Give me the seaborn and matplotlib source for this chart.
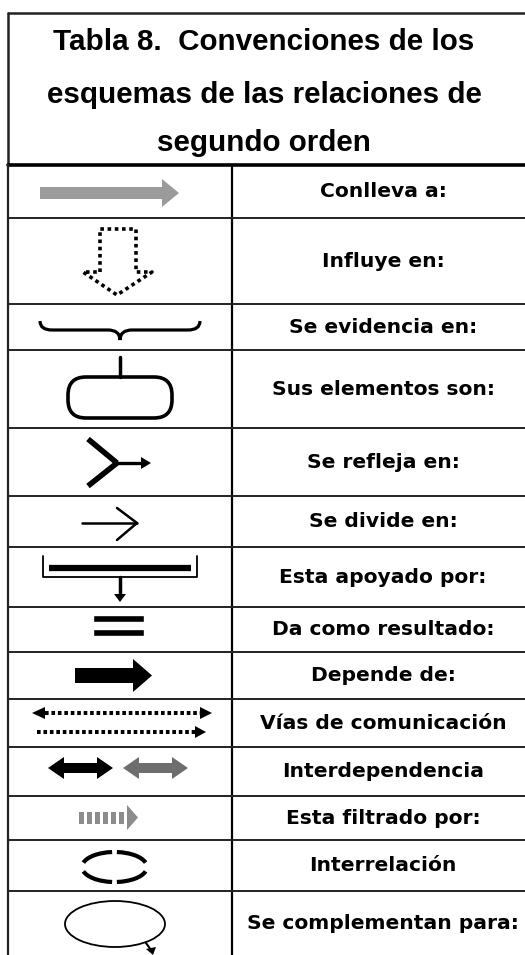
import matplotlib.pyplot as plt
import seaborn as sns
from matplotlib.patches import Polygon, Rectangle, FancyBboxPatch, Ellipse, Arc, PathPatch
from matplotlib.path import Path

# Table content
title_lines = ["Tabla 8.  Convenciones de los",
               "esquemas de las relaciones de",
               "segundo orden"]
conventions = ["Conlleva a:", "Influye en:", "Se evidencia en:", "Sus elementos son:",
               "Se refleja en:", "Se divide en:", "Esta apoyado por:", "Da como resultado:",
               "Depende de:", "Vías de comunicación", "Interdependencia",
               "Esta filtrado por:", "Interrelación", "Se complementan para:"]

# layout (pixels)
row_edges = [165, 218, 304, 350, 428, 496, 547, 607, 652, 699, 747, 796, 840, 891, 955]

sns.set_style("white")
fig = plt.figure(figsize=(5.25, 9.55), dpi=100)
ax = fig.add_axes([0, 0, 1, 1])
ax.set_xlim(0, 525)
ax.set_ylim(955, 0)
ax.axis("off")

K = "black"
LC = "#222222"

# title box
ax.plot([8, 8], [13, 165], color=LC, lw=1.8)
ax.plot([8, 525], [13, 13], color=LC, lw=1.8)
ax.plot([8, 525], [165, 165], color=K, lw=2.6)
for txt, yb in zip(title_lines, [50, 103, 151]):
    ax.text(264, yb, txt, ha="center", va="baseline", fontsize=21.3, color=K,
            fontweight="bold", family="Liberation Sans")

# grid
ax.plot([8, 8], [165, 955], color=LC, lw=1.6)
ax.plot([232, 232], [165, 955], color=K, lw=1.6)
for y in row_edges[1:-1]:
    ax.plot([8, 525], [y, y], color=LC, lw=1.4)

# labels
for lab, y0, y1 in zip(conventions, row_edges[:-1], row_edges[1:]):
    ax.text(383, (y0 + y1) / 2, lab, ha="center", va="center", fontsize=14.6, color=K,
            fontweight="bold", family="DejaVu Sans")


def poly(pts, fc):
    ax.add_patch(Polygon(pts, closed=True, fc=fc, ec="none"))


# 1 gray arrow
poly([(40, 187), (162, 187), (162, 179), (179, 193), (162, 207), (162, 199), (40, 199)], "#9b9b9b")

# 2 dotted block arrow down
ax.plot([100, 100, 136, 136, 152, 117, 83, 100], [272, 229, 229, 272, 272, 295, 272, 272],
        color=K, lw=2.6, ls=(0, (1, 1.0)), dash_capstyle="butt")

# 3 brace
verts = [(40, 321), (40, 330), (52, 330), (108, 330), (120, 330), (120, 340),
         (120, 330), (132, 330), (188, 330), (200, 330), (200, 321)]
codes = [Path.MOVETO, Path.CURVE3, Path.CURVE3, Path.LINETO, Path.CURVE3, Path.CURVE3,
         Path.CURVE3, Path.CURVE3, Path.LINETO, Path.CURVE3, Path.CURVE3]
ax.add_patch(PathPatch(Path(verts, codes), fc="none", ec=K, lw=2.3))

# 4 stem + rounded box
ax.plot([120, 120], [357, 377], color=K, lw=2.5)
ax.add_patch(FancyBboxPatch((68, 377), 104, 41, boxstyle="round,pad=0,rounding_size=18",
                            fc="none", ec=K, lw=2.6))

# 5 Y arrow
ax.plot([88, 117], [439, 463], color=K, lw=4, solid_capstyle="butt")
ax.plot([88, 117], [486, 463], color=K, lw=4, solid_capstyle="butt")
ax.plot([115, 143], [463, 463], color=K, lw=2.4)
poly([(141, 457), (151, 463), (141, 469)], K)

# 6 thin arrow
ax.plot([82, 137], [523, 523], color=K, lw=1.8)
ax.plot([117, 137, 117], [508, 523, 540], color=K, lw=1.8)

# 7 bracket
ax.plot([43, 43, 197, 197], [556, 577, 577, 556], color=K, lw=1.3)
ax.plot([49, 191], [568, 568], color=K, lw=4.5, solid_capstyle="butt")
ax.plot([120, 120], [577, 596], color=K, lw=2.5)
poly([(114, 594), (126, 594), (120, 602)], K)

# 8 equals
ax.add_patch(Rectangle((93, 615), 51, 7, fc=K))
ax.add_patch(Rectangle((93, 629), 51, 7, fc=K))

# 9 black block arrow
poly([(75, 668), (133, 668), (133, 659), (152, 675.5), (133, 692), (133, 683), (75, 683)], K)

# 10 dotted double arrows
ax.plot([45, 200], [713, 713], color=K, lw=2.9, ls=(0, (0.9, 0.7)), dash_capstyle="butt")
poly([(32, 713), (45, 707), (45, 719)], K)
poly([(212, 713), (200, 707), (200, 719)], K)
ax.plot([37, 195], [732, 732], color=K, lw=2.9, ls=(0, (0.9, 0.7)), dash_capstyle="butt")
poly([(206, 732), (195, 726), (195, 738)], K)


# 11 double-headed arrows
def dbl(x0, x1, c, y=768):
    poly([(x0, y), (x0 + 16, y - 11), (x0 + 16, y - 5), (x1 - 16, y - 5), (x1 - 16, y - 11),
          (x1, y), (x1 - 16, y + 11), (x1 - 16, y + 5), (x0 + 16, y + 5), (x0 + 16, y + 11)], c)


dbl(48, 113, K)
dbl(123, 188, "#6e6e6e")

# 12 gray striped arrow
for i in range(6):
    ax.add_patch(Rectangle((79 + 8 * i, 812), 4.5, 12, fc="#8c8c8c", ec="none"))
poly([(127, 805), (138, 817.5), (127, 830)], "#8c8c8c")

# 13 broken ellipse
for a, b in [(8, 81), (99, 172), (188, 261), (279, 352)]:
    ax.add_patch(Arc((114.5, 867), 65, 30, theta1=a, theta2=b, color=K, lw=3))

# 14 ellipse with small arrow
ax.add_patch(Ellipse((115, 924), 100, 46, fc="none", ec=K, lw=1.3))
ax.plot([146, 151], [943, 950], color=K, lw=1.5)
poly([(146, 949), (156, 947), (153, 955)], K)

fig.savefig("out.png", dpi=100)
